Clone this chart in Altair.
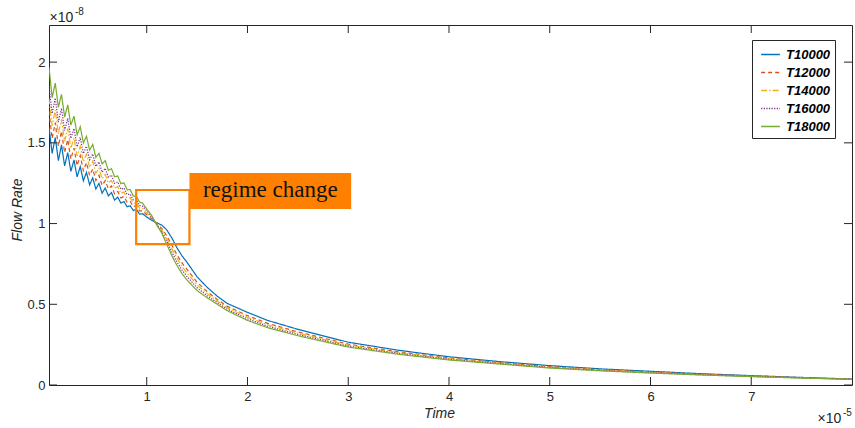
import altair as alt
import pandas as pd

# Series definitions
series_names = ["T10000", "T12000", "T14000", "T16000", "T18000"]
series_colors = ["#0072BD", "#D95319", "#EDB120", "#7E2F8E", "#77AC30"]
series_dashes = [[1, 0], [4, 3], [6, 2, 1.5, 2], [1.2, 1.4], [1, 0]]

# Time axis, in units of 1e-5
time_early = [0.030, 0.061, 0.092, 0.123, 0.154, 0.185, 0.216, 0.247, 0.278, 0.309,
              0.340, 0.371, 0.402, 0.433, 0.464, 0.495, 0.526, 0.557, 0.588, 0.619,
              0.650, 0.681, 0.712, 0.743, 0.774, 0.805, 0.836, 0.867, 0.898, 0.929, 0.960]
time_late = [1.00, 1.05, 1.10, 1.15, 1.20, 1.25, 1.30, 1.35, 1.40, 1.50, 1.60, 1.70,
             1.80, 2.00, 2.20, 2.50, 3.00, 3.50, 4.00, 4.50, 5.00, 5.50, 6.00, 6.50,
             7.00, 7.50, 8.00]

# Flow rate, in units of 1e-8
flow_t10000 = [1.600, 1.434, 1.533, 1.390, 1.487, 1.357, 1.440, 1.323, 1.394, 1.289,
               1.353, 1.265, 1.317, 1.240, 1.283, 1.214, 1.249, 1.188, 1.220, 1.172,
               1.192, 1.145, 1.164, 1.127, 1.137, 1.104, 1.110, 1.081, 1.088, 1.058, 1.061,
               1.040, 1.020, 1.005, 0.990, 0.960, 0.910, 0.850, 0.800, 0.760, 0.670, 0.605,
               0.550, 0.505, 0.450, 0.400, 0.345, 0.265, 0.215, 0.175, 0.145, 0.120, 0.100,
               0.085, 0.070, 0.058, 0.047, 0.037]
flow_t12000 = [1.695, 1.527, 1.625, 1.479, 1.572, 1.439, 1.520, 1.400, 1.467, 1.359,
               1.421, 1.328, 1.378, 1.298, 1.338, 1.267, 1.299, 1.237, 1.266, 1.215,
               1.233, 1.184, 1.199, 1.159, 1.168, 1.132, 1.137, 1.105, 1.110, 1.078, 1.079,
               1.055, 1.030, 0.999, 0.970, 0.924, 0.866, 0.806, 0.756, 0.716, 0.636, 0.579,
               0.530, 0.487, 0.430, 0.382, 0.329, 0.253, 0.205, 0.167, 0.139, 0.114, 0.095,
               0.081, 0.067, 0.056, 0.045, 0.036]
flow_t14000 = [1.775, 1.607, 1.703, 1.555, 1.645, 1.510, 1.588, 1.466, 1.529, 1.419,
               1.478, 1.383, 1.430, 1.348, 1.386, 1.312, 1.342, 1.278, 1.305, 1.252,
               1.267, 1.218, 1.229, 1.187, 1.195, 1.157, 1.160, 1.126, 1.128, 1.096, 1.094,
               1.065, 1.035, 0.996, 0.960, 0.906, 0.844, 0.784, 0.734, 0.694, 0.619, 0.566,
               0.520, 0.478, 0.420, 0.373, 0.321, 0.247, 0.200, 0.163, 0.136, 0.111, 0.093,
               0.078, 0.065, 0.054, 0.045, 0.036]
flow_t16000 = [1.852, 1.682, 1.778, 1.628, 1.714, 1.577, 1.652, 1.528, 1.588, 1.476,
               1.533, 1.434, 1.479, 1.395, 1.431, 1.354, 1.382, 1.318, 1.342, 1.287,
               1.300, 1.249, 1.258, 1.213, 1.220, 1.180, 1.182, 1.146, 1.146, 1.112, 1.108,
               1.080, 1.040, 0.993, 0.950, 0.888, 0.822, 0.762, 0.712, 0.672, 0.602, 0.553,
               0.510, 0.469, 0.410, 0.364, 0.313, 0.241, 0.195, 0.159, 0.133, 0.108, 0.090,
               0.076, 0.064, 0.053, 0.044, 0.035]
flow_t18000 = [1.970, 1.780, 1.870, 1.720, 1.800, 1.660, 1.735, 1.610, 1.665, 1.550,
               1.600, 1.500, 1.540, 1.455, 1.490, 1.410, 1.435, 1.370, 1.390, 1.330,
               1.340, 1.290, 1.295, 1.247, 1.252, 1.209, 1.210, 1.171, 1.168, 1.133, 1.126,
               1.090, 1.050, 0.990, 0.940, 0.870, 0.800, 0.740, 0.690, 0.650, 0.585, 0.540,
               0.500, 0.460, 0.400, 0.355, 0.305, 0.235, 0.190, 0.155, 0.130, 0.105, 0.088,
               0.074, 0.062, 0.052, 0.043, 0.035]

# Axis ticks
x_ticks = [1, 2, 3, 4, 5, 6, 7]
y_ticks = [0, 0.5, 1, 1.5, 2]

# Annotation: highlighted region and its label box (data coordinates)
region_x = [0.895, 1.424]
region_y = [0.873, 1.208]
label_box_x = [1.424, 3.029]
label_box_y = [1.090, 1.313]
label_text = "regime change"

time_points = time_early + time_late
flows = [flow_t10000, flow_t12000, flow_t14000, flow_t16000, flow_t18000]
rows = []
for name, vals in zip(series_names, flows):
    for t, v in zip(time_points, vals):
        rows.append({"time": t, "flow": v, "series": name})
df = pd.DataFrame(rows)

W, H = 803, 360
INK = "#262626"
ORANGE = "#FF8000"
FONT = "Liberation Sans"

x_scale = alt.Scale(domain=[0.03, 8.0], nice=False, zero=False)
y_scale = alt.Scale(domain=[0, 2.23], nice=False, zero=False)

# One shared axis definition per direction, reused by every layer
x_axis = alt.Axis(values=x_ticks, format="d", title=None, ticks=False, domain=False, grid=False,
                  labelPadding=5, labelFontSize=13, labelFont=FONT, labelColor=INK)
y_axis = alt.Axis(values=y_ticks, format=".1~f", title=None, ticks=False, domain=False, grid=False,
                  labelPadding=4, labelFontSize=13, labelFont=FONT, labelColor=INK)


def X(field):
    return alt.X(field, scale=x_scale, axis=x_axis)


def Y(field):
    return alt.Y(field, scale=y_scale, axis=y_axis)


legend_def = alt.Legend(
    title=None, orient="none", legendX=703, legendY=15, direction="vertical",
    symbolType="stroke", symbolSize=350, symbolStrokeWidth=1.5, symbolOffset=4,
    labelFont=FONT, labelFontSize=13, labelFontWeight="bold", labelFontStyle="italic",
    labelColor="black", labelOffset=5, strokeColor=INK, fillColor="white",
    padding=4, rowPadding=0, cornerRadius=0,
)

lines = alt.Chart(df).mark_line(strokeWidth=1.2, clip=True).encode(
    x=X("time:Q"),
    y=Y("flow:Q"),
    color=alt.Color("series:N", scale=alt.Scale(domain=series_names, range=series_colors),
                    legend=legend_def),
    strokeDash=alt.StrokeDash("series:N", scale=alt.Scale(domain=series_names, range=series_dashes),
                              legend=legend_def),
)

region_df = pd.DataFrame({"x0": [region_x[0]], "x1": [region_x[1]],
                          "y0": [region_y[0]], "y1": [region_y[1]]})
region = alt.Chart(region_df).mark_rect(fillOpacity=0, stroke=ORANGE, strokeWidth=2.2).encode(
    x=X("x0:Q"), x2="x1:Q", y=Y("y0:Q"), y2="y1:Q",
)

box_df = pd.DataFrame({"x0": [label_box_x[0]], "x1": [label_box_x[1]],
                       "y0": [label_box_y[0]], "y1": [label_box_y[1]],
                       "xc": [(label_box_x[0] + label_box_x[1]) / 2],
                       "yc": [(label_box_y[0] + label_box_y[1]) / 2],
                       "label": [label_text]})
box = alt.Chart(box_df).mark_rect(color=ORANGE).encode(
    x=X("x0:Q"), x2="x1:Q", y=Y("y0:Q"), y2="y1:Q",
)
box_text = alt.Chart(box_df).mark_text(
    font="Liberation Serif", fontSize=23, color="#111111", align="center", baseline="middle", dy=-1
).encode(
    x=X("xc:Q"), y=Y("yc:Q"), text="label:N",
)

# Inward tick marks on all four sides of the box
xt = pd.DataFrame({"v": x_ticks})
yt = pd.DataFrame({"v": y_ticks})
TL = 8
tick_style = dict(color=INK, strokeWidth=1)
ticks_bottom = alt.Chart(xt).mark_rule(**tick_style).encode(
    x=X("v:Q"), y=alt.value(H), y2=alt.value(H - TL))
ticks_top = alt.Chart(xt).mark_rule(**tick_style).encode(
    x=X("v:Q"), y=alt.value(0), y2=alt.value(TL))
ticks_left = alt.Chart(yt).mark_rule(**tick_style).encode(
    y=Y("v:Q"), x=alt.value(0), x2=alt.value(TL))
ticks_right = alt.Chart(yt).mark_rule(**tick_style).encode(
    y=Y("v:Q"), x=alt.value(W), x2=alt.value(W - TL))

one = pd.DataFrame({"k": [0]})


def label(text, x, y, size, **kw):
    return alt.Chart(one).mark_text(text=text, font=FONT, fontSize=size, color=INK, **kw).encode(
        x=alt.value(x), y=alt.value(y))


exp_y1 = label("\u00d710", 0.5, -3, 14, align="left", baseline="alphabetic")
exp_y2 = label("-8", 26, -10, 10, align="left", baseline="alphabetic")
exp_x1 = label("\u00d710", 768.5, 398, 14, align="left", baseline="alphabetic")
exp_x2 = label("-5", 794, 391, 10, align="left", baseline="alphabetic")
x_title = label("Time", 390.5, 389, 14, align="center", baseline="middle", fontStyle="italic")
y_title = label("Flow Rate", -31.5, 185, 14, align="center", baseline="middle",
                fontStyle="italic", angle=270)

chart = alt.layer(
    lines, region, box, box_text,
    ticks_bottom, ticks_top, ticks_left, ticks_right,
    exp_y1, exp_y2, exp_x1, exp_x2, x_title, y_title,
).properties(
    width=W, height=H,
    autosize=alt.AutoSizeParams(type="none"),
    padding={"left": 49, "top": 25, "right": 3, "bottom": 43},
    background="white",
).configure_view(
    stroke=INK, strokeWidth=1
)

chart.save("out.html", embed_options={"renderer": "svg", "actions": False})
